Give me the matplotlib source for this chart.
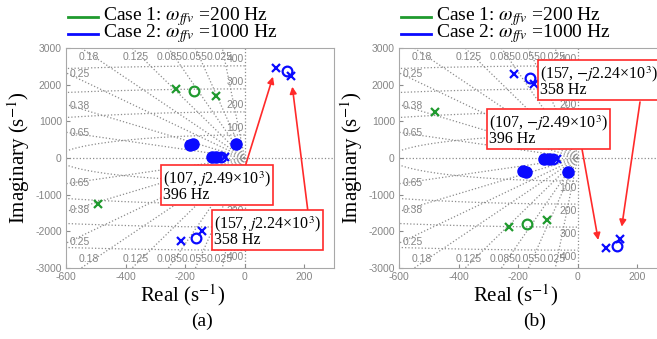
import numpy as np
import matplotlib
matplotlib.use('Agg')
import matplotlib.pyplot as plt
from matplotlib.lines import Line2D

plt.rcParams['mathtext.fontset'] = 'stix'
plt.rcParams['axes.unicode_minus'] = False

# damping ratios and natural frequencies (Hz) of the s-plane grid
zeta_list = [0.025, 0.055, 0.085, 0.125, 0.18, 0.25, 0.38, 0.65]
freq_hz_list = [100, 200, 300, 400]

x_ticks = [-600, -400, -200, 0, 200]
y_ticks = [-3000, -2000, -1000, 0, 1000, 2000, 3000]

legend_labels = [r'Case 1: $\omega_{ffv}$ =200 Hz', r'Case 2: $\omega_{ffv}$ =1000 Hz']

# panel (a)
a_case1_pole_re = [-232, -97, -492]
a_case1_pole_im = [1873, 1690, -1246]
a_case1_zero_re = [-170]
a_case1_zero_im = [1827]
a_case2_pole_re = [106, 157, -215, -144, -66]
a_case2_pole_im = [2463, 2236, -2263, -1990, 15]
a_case2_zero_re = [143, -163, -78]
a_case2_zero_im = [2373, -2190, 30]
a_case2_dot_re = [-183, -172, -28, -110, -95]
a_case2_dot_im = [350, 395, 375, 40, 40]
a_notes = [r'(107, $j$2.49×10$^3$)' + '\n396 Hz', r'(157, $j$2.24×10$^3$)' + '\n358 Hz']
a_note_tips = [(95, 2217), (160, 1944)]

# panel (b)
b_case1_pole_re = [-478, -230, -102]
b_case1_pole_im = [1262, -1882, -1699]
b_case1_zero_re = [-171]
b_case1_zero_im = [-1809]
b_case2_pole_re = [95, 142, -213, -147, -70]
b_case2_pole_im = [-2462, -2217, 2282, 2009, -15]
b_case2_zero_re = [131, -160, -82]
b_case2_zero_im = [-2400, 2190, -20]
b_case2_dot_re = [-183, -172, -32, -112, -96]
b_case2_dot_im = [-350, -395, -375, -30, -30]
b_notes = [r'(107, $-j$2.49×10$^3$)' + '\n396 Hz', r'(157, $-j$2.24×10$^3$)' + '\n358 Hz']
b_note_tips = [(69, -2236), (148, -1873)]

W, H = 657, 339
green = '#1f9a2e'
blue = '#0a0aff'
red = '#ff2a2a'
grid_c = '#8c8c8c'
label_c = '#858585'


def fx(px):
    return px / W


def fy(py):
    return 1 - py / H


def draw_sgrid(ax):
    r = np.array([0, 6000])
    for z in zeta_list:
        wd = np.sqrt(1 - z ** 2)
        for s in (1, -1):
            ax.plot(-z * r, s * wd * r, ls=':', color=grid_c, lw=0.9, zorder=1)
    th = np.linspace(np.pi / 2, 3 * np.pi / 2, 400)
    for f in freq_hz_list:
        w = 2 * np.pi * f
        ax.plot(w * np.cos(th), w * np.sin(th), ls=':', color=grid_c, lw=0.9, zorder=1)
    ax.axhline(0, ls=':', color=grid_c, lw=0.9, zorder=1)
    ax.axvline(0, ls=':', color=grid_c, lw=0.9, zorder=1)
    kw = dict(color=label_c, fontsize=7.5, family='Liberation Sans', zorder=2)
    for z in zeta_list:
        k = np.sqrt(1 - z ** 2) / z
        if z <= 0.18:
            for s in (1, -1):
                ax.text(-2780 / k - 15, s * 2760, '%g' % z, ha='center', va='center', **kw)
        else:
            for s in (1, -1):
                ax.text(-588, s * 588 * k, '%g' % z, ha='left', va='center', **kw)
    for f in freq_hz_list:
        w = 2 * np.pi * f
        ax.text(-2, w + 40, str(f), ha='right', va='bottom', **kw)
        ax.text(-2, -w - 40, str(f), ha='right', va='top', **kw)


def draw_panel(left_px, c1p, c1z, c2p, c2z, c2d, tag):
    ax = fig.add_axes([fx(left_px), fy(268), 268 / W, 220 / H])
    draw_sgrid(ax)
    ax.plot(c1p[0], c1p[1], 'x', color=green, ms=6, mew=1.6, ls='none', zorder=3)
    ax.plot(c1z[0], c1z[1], 'o', color=green, mfc='none', ms=7, mew=1.6, ls='none', zorder=3)
    ax.plot(c2d[0], c2d[1], 'o', color=blue, ms=8, ls='none', zorder=3)
    ax.plot(c2p[0], c2p[1], 'x', color=blue, ms=6, mew=1.6, ls='none', zorder=4)
    ax.plot(c2z[0], c2z[1], 'o', color=blue, mfc='none', ms=7, mew=1.6, ls='none', zorder=4)
    ax.set_xlim(-600, 300)
    ax.set_ylim(-3000, 3000)
    ax.set_xticks(x_ticks)
    ax.set_yticks(y_ticks)
    ax.tick_params(direction='in', length=3, color=grid_c, labelcolor=label_c, labelsize=7.5, pad=3)
    for lab in ax.get_xticklabels() + ax.get_yticklabels():
        lab.set_family('Liberation Sans')
    for sp in ax.spines.values():
        sp.set_color('#a8a8a8')
        sp.set_linewidth(0.8)
    fig.text(fx(left_px - 47), fy(158), 'Imaginary (s$^{-1}$)', rotation=90, ha='center', va='center',
             family='Liberation Serif', fontsize=15)
    fig.text(fx(left_px + 117), fy(295), 'Real (s$^{-1}$)', ha='center', va='center',
             family='Liberation Serif', fontsize=15)
    fig.text(fx(left_px + 136), fy(321), tag, ha='center', va='center', family='Liberation Serif', fontsize=14)
    for i, (lab, col) in enumerate(zip(legend_labels, [green, blue])):
        yy = fy(17 + 16.5 * i)
        fig.add_artist(Line2D([fx(left_px + 2), fx(left_px + 32)], [yy, yy], color=col, lw=2))
        fig.text(fx(left_px + 37), yy, lab, ha='left', va='center', family='Liberation Serif', fontsize=14)
    return ax


def add_note(ax, text, box_xy, start_xy, tip):
    ax.text(fx(box_xy[0]), fy(box_xy[1]), text, transform=fig.transFigure, ha='left', va='center',
            family='Liberation Serif', fontsize=11.5, linespacing=0.9, zorder=6,
            bbox=dict(boxstyle='square,pad=0.1', fc='white', ec=red, lw=1.2))
    ax.annotate('', xy=tip, xycoords='data', xytext=(fx(start_xy[0]), fy(start_xy[1])),
                textcoords='figure fraction', annotation_clip=False, zorder=5,
                arrowprops=dict(arrowstyle='-|>', color=red, lw=1.2, mutation_scale=10,
                                shrinkA=0, shrinkB=0))


fig = plt.figure(figsize=(W / 100, H / 100), dpi=100)

ax_a = draw_panel(66, (a_case1_pole_re, a_case1_pole_im), (a_case1_zero_re, a_case1_zero_im),
                  (a_case2_pole_re, a_case2_pole_im), (a_case2_zero_re, a_case2_zero_im),
                  (a_case2_dot_re, a_case2_dot_im), '(a)')
add_note(ax_a, a_notes[0], (163, 186), (245, 167), a_note_tips[0])
add_note(ax_a, a_notes[1], (214, 231), (308, 212), a_note_tips[1])

ax_b = draw_panel(399, (b_case1_pole_re, b_case1_pole_im), (b_case1_zero_re, b_case1_zero_im),
                  (b_case2_pole_re, b_case2_pole_im), (b_case2_zero_re, b_case2_zero_im),
                  (b_case2_dot_re, b_case2_dot_im), '(b)')
add_note(ax_b, b_notes[0], (489, 130), (582, 149), b_note_tips[0])
add_note(ax_b, b_notes[1], (540, 81), (640, 102), b_note_tips[1])

fig.savefig('out.png', dpi=100)
